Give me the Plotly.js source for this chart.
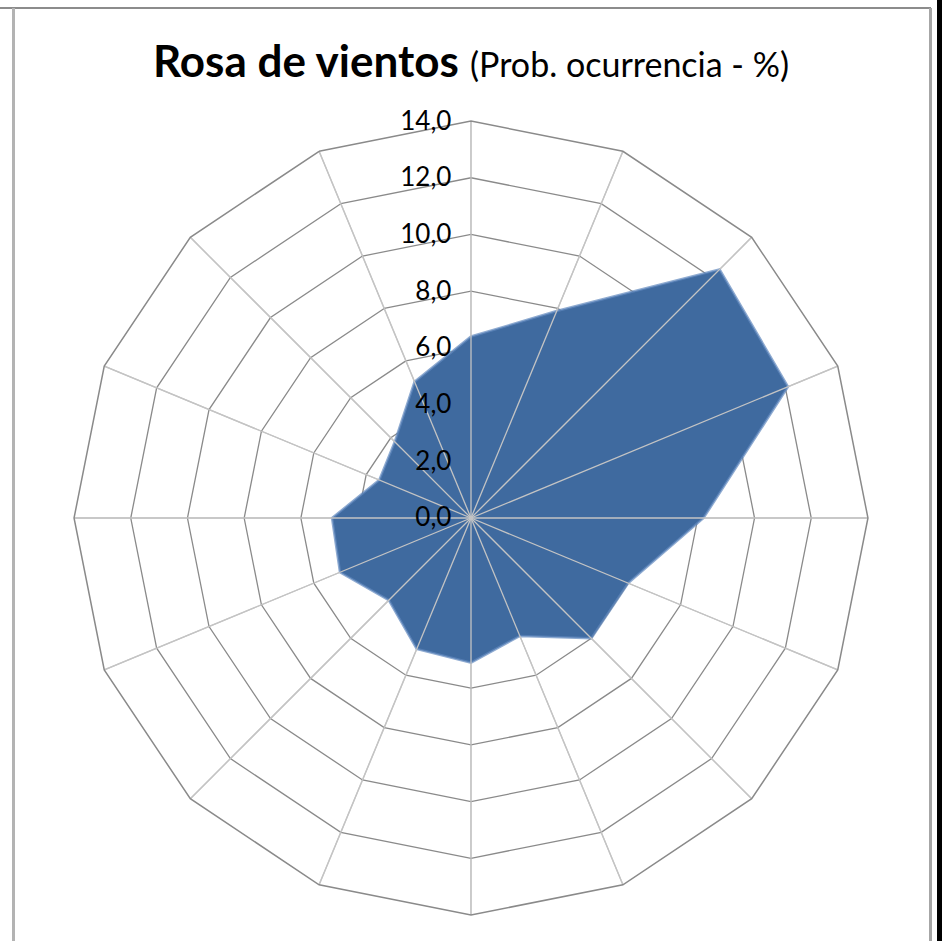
<!DOCTYPE html>
<html>
<head>
<meta charset="utf-8">
<script src="https://cdn.plot.ly/plotly-3.0.1.min.js"></script>
<style>
html,body{margin:0;padding:0;background:#fff;}
#chart{width:942px;height:941px;}
</style>
</head>
<body>
<div id="chart"></div>
<script>
// 16 wind directions (clockwise from North)
const directions = ["N","NNE","NE","ENE","E","ESE","SE","SSE","S","SSW","SW","WSW","W","WNW","NW","NNW"];
// Probability of occurrence (%)
const probability = [6.4, 7.9, 12.4, 12.1, 8.2, 6.0, 6.0, 4.5, 5.1, 5.0, 4.1, 5.0, 4.9, 3.5, 3.8, 5.2];
const radialTicks = [0, 2, 4, 6, 8, 10, 12, 14];

const rMax = radialTicks[radialTicks.length - 1];

const area = {
  type: 'scatterpolar',
  r: probability.concat([probability[0]]),
  theta: directions.concat([directions[0]]),
  fill: 'toself',
  fillcolor: '#3f6a9f',
  mode: 'lines',
  line: {color: 'rgba(95,135,190,0.7)', width: 2.5},
  hoverinfo: 'r+theta'
};

// Category spokes drawn above the filled area (as in the Excel radar chart)
const spokeR = [], spokeT = [];
directions.forEach(d => { spokeR.push(0, rMax, null); spokeT.push(d, d, null); });
const spokes = {
  type: 'scatterpolar',
  r: spokeR,
  theta: spokeT,
  mode: 'lines',
  line: {color: '#c4c4c4', width: 1.3},
  hoverinfo: 'skip',
  connectgaps: false
};

const layout = {
  width: 942, height: 941,
  margin: {l: 0, r: 0, t: 0, b: 0},
  paper_bgcolor: '#ffffff',
  separators: ', ',
  showlegend: false,
  font: {family: 'Lato, "Open Sans", sans-serif', color: '#000'},
  title: {
    text: '<b>Rosa de vientos</b> <span style="font-size:34px">(Prob. ocurrencia - %)</span>',
    font: {family: 'Lato, sans-serif', size: 44, color: '#000'},
    x: 0.5, xanchor: 'center', xref: 'paper',
    y: 1 - 62/941, yanchor: 'middle', yref: 'paper'
  },
  polar: {
    domain: {x: [0.0786, 0.9214], y: [0.0276, 0.8714]},
    bgcolor: 'rgba(0,0,0,0)',
    gridshape: 'linear',
    radialaxis: {
      range: [0, rMax],
      tickvals: radialTicks,
      tickformat: '.1f',
      angle: 90,
      tickangle: 90,
      side: 'counterclockwise',
      showline: false,
      ticks: 'outside',
      ticklen: 10,
      tickcolor: 'rgba(0,0,0,0)',
      gridcolor: '#8a8a8a',
      gridwidth: 1.3,
      tickfont: {family: 'Lato, sans-serif', size: 26, color: '#000'},
      layer: 'above traces'
    },
    angularaxis: {
      type: 'category',
      categoryarray: directions,
      rotation: 90,
      direction: 'clockwise',
      showticklabels: false,
      ticks: '',
      gridcolor: '#c4c4c4',
      gridwidth: 1.3,
      showline: true,
      linecolor: '#8a8a8a',
      linewidth: 1.5
    }
  },
  shapes: [
    {type: 'line', xref: 'paper', yref: 'paper', x0: 0, x1: 931/942, y0: 1 - 8/941, y1: 1 - 8/941, line: {color: '#8c8c8c', width: 2}},
    {type: 'line', xref: 'paper', yref: 'paper', x0: 13.5/942, x1: 13.5/942, y0: 0, y1: 1 - 8/941, line: {color: '#b3b3b3', width: 3}},
    {type: 'line', xref: 'paper', yref: 'paper', x0: 930.5/942, x1: 930.5/942, y0: 0, y1: 1 - 8/941, line: {color: '#a6a6a6', width: 3}},
    {type: 'rect', xref: 'paper', yref: 'paper', x0: 937/942, x1: 1, y0: 0, y1: 1, fillcolor: '#000', line: {width: 0}}
  ]
};

Plotly.newPlot('chart', [area, spokes], layout, {displayModeBar: false, staticPlot: true});
</script>
</body>
</html>
